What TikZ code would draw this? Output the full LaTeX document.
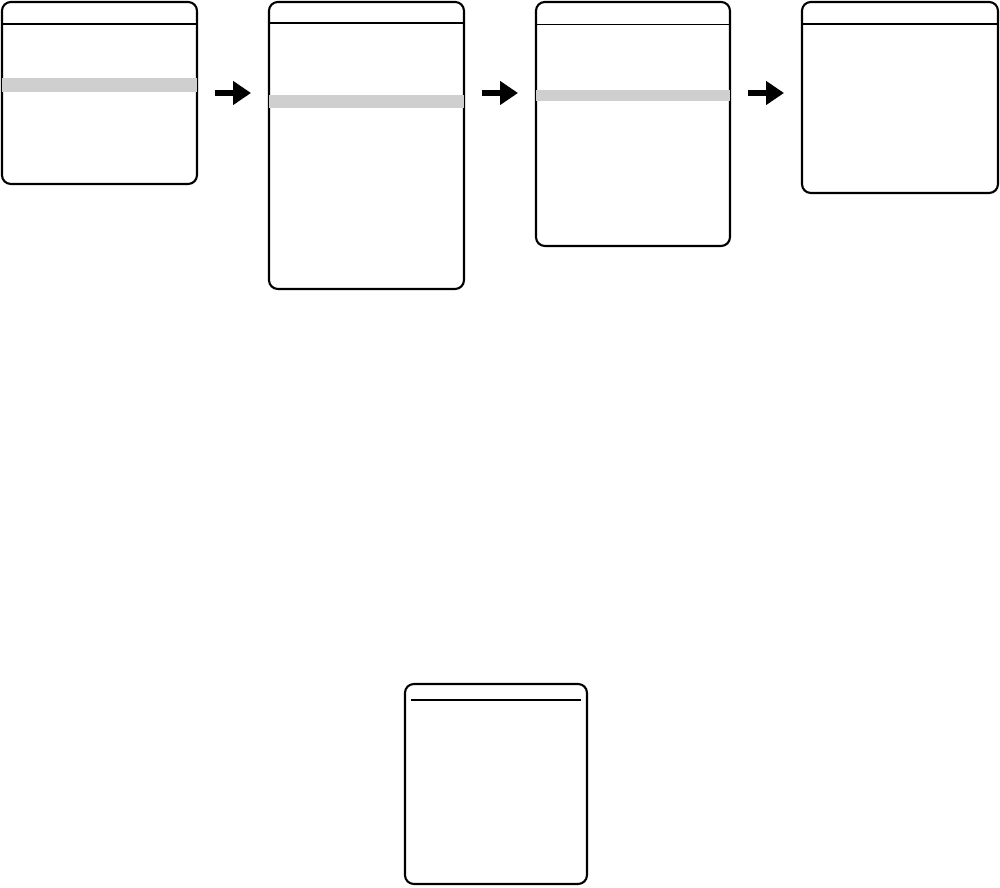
\documentclass[tikz,border=0pt]{standalone}
\usepackage{tikz}
\usetikzlibrary{positioning, arrows.meta, calc}

\begin{document}
\begin{tikzpicture}[
    x=0.02cm, y=-0.02cm,
    menu/.style={rectangle, draw, line width=1.2pt, rounded corners=5pt, outer sep=0pt, anchor=north west},
    header/.style={line width=0.9pt},
    selbar/.style={fill=black!19},
    menuarrow/.style={-{Triangle[length=0.36cm, width=0.46cm]}, line width=0.12cm, shorten <=0.36cm, shorten >=0.36cm},
]
\useasboundingbox (0,0) rectangle (1000,887);

% menu screens
\node[menu, minimum width=3.9cm, minimum height=3.64cm] (menu1) at (2,2) {};
\node[menu, minimum width=3.9cm, minimum height=5.74cm] (menu2) at (269,2) {};
\node[menu, minimum width=3.88cm, minimum height=4.88cm] (menu3) at (536,2) {};
\node[menu, minimum width=3.92cm, minimum height=3.82cm] (menu4) at (802,2) {};
\node[menu, minimum width=3.64cm, minimum height=4.0cm] (menu5) at (405,684) {};

% selected lines
\fill[selbar] ([yshift=-1.52cm]menu1.north west) rectangle ([yshift=-1.80cm]menu1.north east);
\fill[selbar] ([yshift=-1.86cm]menu2.north west) rectangle ([yshift=-2.12cm]menu2.north east);
\fill[selbar] ([yshift=-1.76cm]menu3.north west) rectangle ([yshift=-1.98cm]menu3.north east);

% title rules
\draw[header] ([yshift=-0.44cm]menu1.north west) -- ([yshift=-0.44cm]menu1.north east);
\draw[header] ([yshift=-0.42cm]menu2.north west) -- ([yshift=-0.42cm]menu2.north east);
\draw[header] ([yshift=-0.45cm]menu3.north west) -- ([yshift=-0.45cm]menu3.north east);
\draw[header] ([yshift=-0.44cm]menu4.north west) -- ([yshift=-0.44cm]menu4.north east);
\draw[header] ([xshift=0.12cm, yshift=-0.32cm]menu5.north west) -- ([xshift=-0.12cm, yshift=-0.32cm]menu5.north east);

% arrows
\coordinate (a1) at ([yshift=-1.82cm]menu1.north east);
\coordinate (a2) at ([yshift=-1.82cm]menu2.north east);
\coordinate (a3) at ([yshift=-1.82cm]menu3.north east);
\draw[menuarrow] (a1) -- (a1 -| menu2.west);
\draw[menuarrow] (a2) -- (a2 -| menu3.west);
\draw[menuarrow] (a3) -- (a3 -| menu4.west);

\end{tikzpicture}
\end{document}
